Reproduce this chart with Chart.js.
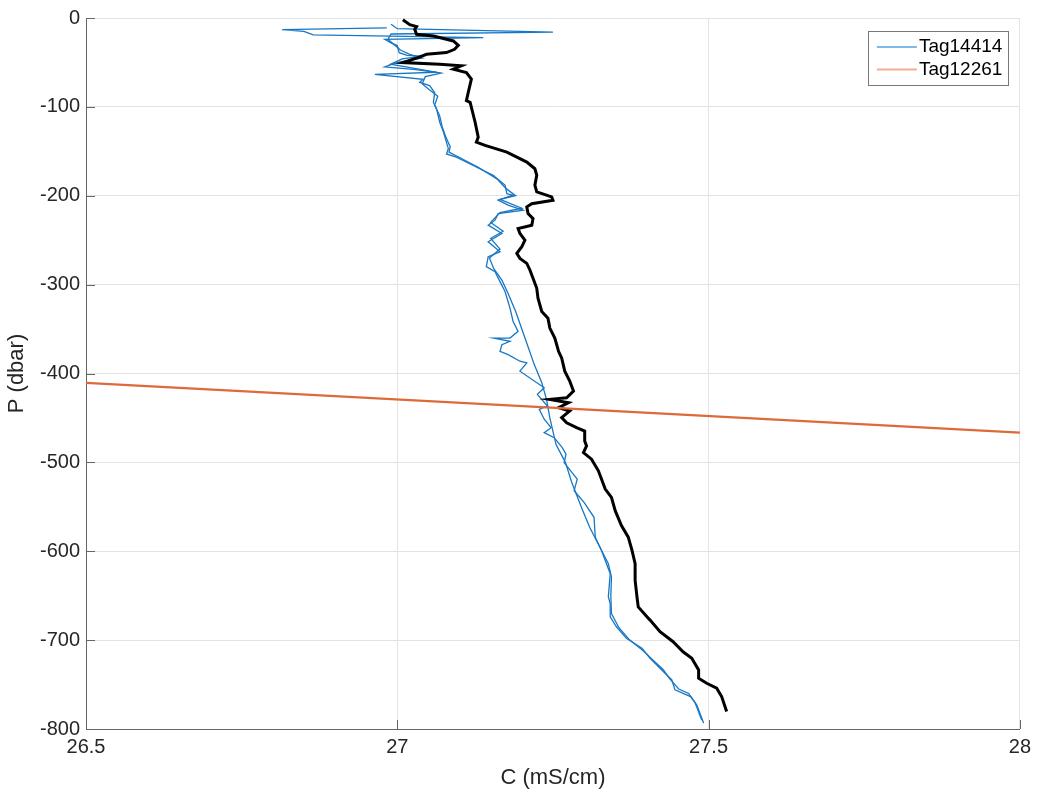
<!DOCTYPE html>
<html>
<head>
<meta charset="utf-8">
<title>C vs P profile</title>
<script src="https://cdn.jsdelivr.net/npm/chart.js@4.4.0/dist/chart.umd.min.js"></script>
<style>
  html, body { margin: 0; padding: 0; background: #fff; }
  #wrap { width: 1037px; height: 796px; position: relative; }
</style>
</head>
<body>
<div id="wrap"><canvas id="chart"></canvas></div>
<script>
// Axis ticks
const xTicks = [26.5, 27, 27.5, 28];
const yTicks = [0, -100, -200, -300, -400, -500, -600, -700, -800];

// Tag14414, first cast (conductivity mS/cm, pressure dbar)
const tagACastOneC = [26.983, 26.815, 26.850, 26.865, 27.138, 26.980, 26.990, 27.000, 27.003, 27.016,
  27.039, 27.008, 26.989, 27.063, 26.964, 27.041, 27.036, 27.052, 27.060, 27.058,
  27.063, 27.068, 27.074, 27.079, 27.082, 27.079, 27.095, 27.122, 27.154, 27.173,
  27.176, 27.186, 27.162, 27.178, 27.202, 27.162, 27.157, 27.146, 27.168, 27.146,
  27.165, 27.146, 27.143, 27.157, 27.165, 27.173, 27.181, 27.186, 27.194, 27.181,
  27.155, 27.181, 27.168, 27.165, 27.178, 27.197, 27.208, 27.197, 27.236, 27.225,
  27.241, 27.228, 27.236, 27.247, 27.236, 27.252, 27.265, 27.271, 27.268, 27.289,
  27.284, 27.300, 27.316, 27.318, 27.328, 27.342, 27.339, 27.342, 27.342, 27.352,
  27.368, 27.393, 27.406, 27.422, 27.441, 27.446, 27.471, 27.481, 27.492];
const tagACastOneP = [-11, -13, -15, -19, -22, -24, -28, -31, -39, -42,
  -43, -46, -52, -61, -63.5, -69, -72.5, -76, -84, -95,
  -102, -117, -128, -140, -147, -153, -156.5, -166, -177, -188,
  -197.6, -199.4, -205, -210.6, -216.2, -220.1, -227.5, -233.1, -242.5, -251.8,
  -263, -268.6, -279.8, -285.4, -296.6, -307.8, -326.5, -341.4, -352.6, -360.1,
  -360.1, -363.8, -367.5, -375, -378.7, -386.2, -388.1, -397.4, -416.1, -423.5,
  -436.6, -440.3, -451.5, -461, -466.6, -472.2, -483.4, -490.8, -500.2, -518.8,
  -531.9, -545, -561.8, -584.2, -599.1, -625.2, -651.4, -658.8, -673.8, -685,
  -698, -709.2, -720.4, -731.7, -744.8, -756, -763.5, -772.8, -793.3];

// Tag14414, second cast
const tagACastTwoC = [26.990, 27.000, 27.250, 26.990, 26.985, 26.995, 27.005, 27.020, 27.040, 27.000,
  26.980, 27.030, 27.070, 27.045, 27.040, 27.050, 27.065, 27.060, 27.068, 27.072,
  27.078, 27.085, 27.083, 27.100, 27.130, 27.160, 27.175, 27.190, 27.165, 27.200,
  27.165, 27.150, 27.170, 27.150, 27.165, 27.148, 27.155, 27.168, 27.178, 27.190,
  27.200, 27.210, 27.220, 27.232, 27.240, 27.245, 27.255, 27.270, 27.280, 27.296,
  27.309, 27.325, 27.339, 27.344, 27.343, 27.344, 27.356, 27.372, 27.395, 27.410,
  27.427, 27.437, 27.452, 27.468, 27.478, 27.489];
const tagACastTwoP = [-7, -12, -16, -18, -24, -30, -36, -41, -45, -50,
  -55, -58, -62, -66, -74, -80, -88, -98, -110, -122,
  -134, -145, -151, -157, -168, -181, -192, -200, -204, -214,
  -219, -230, -240, -248, -260, -270, -282, -295, -310, -330,
  -350, -370, -390, -410, -430, -450, -480, -500, -522, -551,
  -573, -595, -614, -629, -650, -670, -686, -699, -712, -722,
  -733, -743, -755, -760, -770, -790];

// Reference profile (black)
const refC = [27.009, 27.020, 27.031, 27.028, 27.031, 27.058, 27.090, 27.098, 27.092, 27.079,
  27.047, 27.033, 27.009, 27.068, 27.103, 27.090, 27.111, 27.119, 27.114, 27.111,
  27.117, 27.125, 27.130, 27.127, 27.141, 27.176, 27.208, 27.221, 27.224, 27.221,
  27.224, 27.248, 27.250, 27.216, 27.208, 27.210, 27.218, 27.216, 27.194, 27.197,
  27.205, 27.200, 27.192, 27.197, 27.208, 27.213, 27.218, 27.224, 27.226, 27.232,
  27.242, 27.245, 27.253, 27.259, 27.264, 27.269, 27.277, 27.283, 27.272, 27.245,
  27.275, 27.259, 27.277, 27.264, 27.272, 27.288, 27.301, 27.301, 27.304, 27.299,
  27.312, 27.323, 27.334, 27.344, 27.350, 27.360, 27.371, 27.377, 27.382, 27.382,
  27.385, 27.387, 27.401, 27.406, 27.422, 27.443, 27.459, 27.473, 27.484, 27.484,
  27.497, 27.513, 27.521, 27.529];
const refP = [-2, -7.5, -9.7, -12.8, -18.4, -20.2, -25.8, -30.7, -35.2, -38.9,
  -40.8, -44.5, -50.1, -52.0, -53.8, -57.6, -61.3, -68.8, -83.7, -93.0,
  -94.9, -117.3, -134.1, -139.7, -143.4, -150.9, -162.1, -169.6, -177.0, -188.2,
  -195.7, -201.3, -205.0, -208.9, -212.5, -220.1, -225.7, -233.1, -236.9, -242.5,
  -249.9, -257.4, -264.9, -270.5, -276.1, -283.5, -292.9, -304.1, -315.3, -330.2,
  -337.7, -348.9, -360.1, -375.0, -382.5, -397.4, -408.6, -419.8, -427.3, -429.1,
  -432.9, -438.5, -442.2, -449.7, -455.4, -461.0, -464.7, -475.9, -481.5, -489.0,
  -496.4, -509.5, -530.0, -539.4, -554.3, -571.1, -584.2, -599.1, -614.0, -632.7,
  -651.4, -662.6, -673.8, -677.5, -690.6, -701.8, -713.1, -720.4, -733.6, -742.9,
  -748.5, -754.1, -763.5, -780.3];

// Tag12261 (straight line across the panel)
const tagBC = [26.5, 28];
const tagBP = [-410.5, -466.5];

const FONT = "'Liberation Sans', Arial, Helvetica, sans-serif";
const TEXT = '#262626';

const toPoints = (cs, ps) => cs.map((c, i) => ({ x: c, y: ps[i] }));

// Legend drawn inside the axes, top right, like the original figure
const boxLegend = {
  id: 'boxLegend',
  afterDraw(chart) {
    const { ctx, chartArea } = chart;
    const items = chart.data.datasets.filter(d => d.legendLabel);
    const right = chartArea.right - 12;
    const top = chartArea.top + 13;
    const w = 140, rowH = 22.5, h = 54;
    const left = right - w;
    ctx.save();
    ctx.fillStyle = '#fff';
    ctx.fillRect(left, top, w, h);
    ctx.strokeStyle = '#777';
    ctx.lineWidth = 1;
    ctx.strokeRect(Math.round(left) + 0.5, Math.round(top) + 0.5, w, h);
    ctx.font = '19px ' + FONT;
    ctx.textBaseline = 'middle';
    items.forEach((d, i) => {
      const y = top + 16 + i * rowH;
      ctx.strokeStyle = d.legendColor;
      ctx.lineWidth = 2;
      ctx.beginPath();
      ctx.moveTo(left + 9, y);
      ctx.lineTo(left + 49, y);
      ctx.stroke();
      ctx.fillStyle = '#000';
      ctx.fillText(d.legendLabel, left + 51, y);
    });
    ctx.restore();
  }
};

// MATLAB style ticks pointing into the axes
const innerTicks = {
  id: 'innerTicks',
  afterDatasetsDraw(chart) {
    const { ctx, chartArea, scales } = chart;
    ctx.save();
    ctx.strokeStyle = '#666';
    ctx.lineWidth = 1;
    ctx.beginPath();
    xTicks.forEach(v => {
      const px = Math.round(scales.x.getPixelForValue(v)) + 0.5;
      ctx.moveTo(px, chartArea.bottom);
      ctx.lineTo(px, chartArea.bottom - 9);
    });
    yTicks.forEach(v => {
      const py = Math.round(scales.y.getPixelForValue(v)) + 0.5;
      ctx.moveTo(chartArea.left, py);
      ctx.lineTo(chartArea.left + 9, py);
    });
    ctx.stroke();
    ctx.restore();
  }
};

const lineSet = (data, color, width) => ({
  data: data,
  showLine: true,
  borderColor: color,
  borderWidth: width,
  pointRadius: 0,
  pointHoverRadius: 0,
  tension: 0,
  fill: false
});

new Chart(document.getElementById('chart'), {
  type: 'scatter',
  data: {
    datasets: [
      Object.assign(lineSet(toPoints(tagBC, tagBP), '#DE6A3A', 2.2),
        { label: 'Tag12261' }),
      Object.assign(lineSet(toPoints(refC, refP), '#000', 3), { label: 'reference' }),
      Object.assign(lineSet(toPoints(tagACastTwoC, tagACastTwoP), '#1877c4', 1.3),
        { label: 'Tag14414 cast 2' }),
      Object.assign(lineSet(toPoints(tagACastOneC, tagACastOneP), '#1877c4', 1.3),
        { label: 'Tag14414', legendLabel: 'Tag14414', legendColor: '#80b9e6' }),
      { data: [], label: 'Tag12261 key', legendLabel: 'Tag12261', legendColor: '#f2ad92' }
    ]
  },
  options: {
    responsive: true,
    maintainAspectRatio: false,
    animation: false,
    layout: { padding: { top: 15, right: 17, left: 0, bottom: 0 } },
    plugins: {
      legend: { display: false },
      tooltip: { enabled: false }
    },
    scales: {
      x: {
        type: 'linear',
        min: 26.5,
        max: 28,
        afterFit: s => { s.height = 67; },
        afterBuildTicks: s => { s.ticks = xTicks.map(v => ({ value: v })); },
        ticks: {
          padding: 6,
          color: TEXT,
          font: { family: FONT, size: 20 },
          callback: v => String(Math.round(v * 10) / 10)
        },
        grid: { color: '#e3e3e3', drawTicks: false },
        border: { color: '#666', width: 1 },
        title: {
          display: true,
          text: 'C (mS/cm)',
          color: TEXT,
          font: { family: FONT, size: 22 },
          padding: { top: 0, bottom: 5 }
        }
      },
      y: {
        type: 'linear',
        min: -800,
        max: 0,
        afterFit: s => { s.width = 86; },
        afterBuildTicks: s => { s.ticks = yTicks.map(v => ({ value: v })); },
        ticks: {
          padding: 6,
          color: TEXT,
          font: { family: FONT, size: 20 },
          callback: v => String(v)
        },
        grid: { color: '#e3e3e3', drawTicks: false },
        border: { color: '#666', width: 1 },
        title: {
          display: true,
          text: 'P (dbar)',
          color: TEXT,
          font: { family: FONT, size: 22 },
          padding: { top: 4, bottom: 0 }
        }
      }
    }
  },
  plugins: [innerTicks, boxLegend]
});
</script>
</body>
</html>
